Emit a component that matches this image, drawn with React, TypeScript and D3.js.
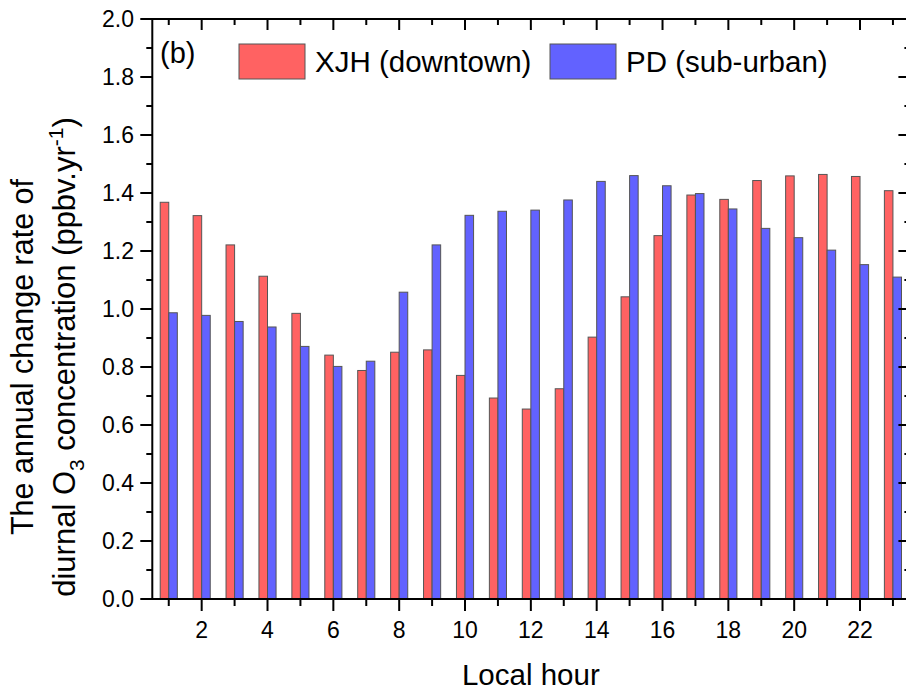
import * as d3 from "d3";

// hours 1..23
const hours = d3.range(1, 24);
const xjh = [1.368, 1.322, 1.221, 1.113, 0.985, 0.841, 0.788, 0.851, 0.859, 0.771, 0.693, 0.655,
  0.725, 0.903, 1.042, 1.253, 1.393, 1.378, 1.443, 1.459, 1.464, 1.457, 1.408];
const pd = [0.987, 0.978, 0.957, 0.938, 0.871, 0.802, 0.820, 1.058, 1.221, 1.323, 1.337, 1.341,
  1.376, 1.440, 1.460, 1.425, 1.398, 1.345, 1.278, 1.246, 1.203, 1.153, 1.110];
const seriesNames = ["XJH (downtown)", "PD (sub-urban)"];
const colors = ["#ff6262", "#6262ff"];
const xMajor = d3.range(2, 24, 2);
const xMinor = d3.range(1, 24, 2);
const yMajor = d3.range(0, 2.01, 0.2);
const yMinor = d3.range(0.1, 2, 0.2);

const W = 906;
const H = 693;
const font = "'Liberation Sans', Arial, sans-serif";

export default function App() {
  const x = d3.scaleLinear().domain([0.5, 23.5]).range([152.3, 909.4]);
  const y = d3.scaleLinear().domain([0, 2]).range([599, 19]);
  const bw = 0.26; // bar width in hour units
  const [x0, x1] = x.range();
  const [y0, y1] = y.range();

  return (
    <svg width={W} height={H} style={{ position: "absolute", left: 0, top: 0, background: "#fff" }}
      fontFamily={font}>
      {/* bars */}
      {hours.map((h, i) => (
        <g key={h}>
          <rect x={x(h - bw)} y={y(xjh[i])} width={x(h) - x(h - bw)} height={y(0) - y(xjh[i])}
            fill={colors[0]} stroke="#555" strokeWidth={1} />
          <rect x={x(h)} y={y(pd[i])} width={x(h + bw) - x(h)} height={y(0) - y(pd[i])}
            fill={colors[1]} stroke="#555" strokeWidth={1} />
        </g>
      ))}

      {/* frame */}
      <rect x={x0} y={y1} width={x1 - x0} height={y0 - y1} fill="none" stroke="#000" strokeWidth={2} />

      {/* x ticks: bottom outward, top inward */}
      {xMajor.map((h) => (
        <g key={"xM" + h}>
          <line x1={x(h)} x2={x(h)} y1={y0} y2={y0 + 12} stroke="#000" strokeWidth={2} />
          <line x1={x(h)} x2={x(h)} y1={y1} y2={y1 + 11} stroke="#000" strokeWidth={2} />
          <text x={x(h)} y={638} fontSize={23} textAnchor="middle">{h}</text>
        </g>
      ))}
      {xMinor.map((h) => (
        <g key={"xm" + h}>
          <line x1={x(h)} x2={x(h)} y1={y0} y2={y0 + 7} stroke="#000" strokeWidth={2} />
          <line x1={x(h)} x2={x(h)} y1={y1} y2={y1 + 6} stroke="#000" strokeWidth={2} />
        </g>
      ))}

      {/* y ticks: left outward, right inward */}
      {yMajor.map((v) => (
        <g key={"yM" + v.toFixed(1)}>
          <line x1={x0 - 12} x2={x0} y1={y(v)} y2={y(v)} stroke="#000" strokeWidth={2} />
          <line x1={x1 - 11} x2={x1} y1={y(v)} y2={y(v)} stroke="#000" strokeWidth={2} />
          <text x={134} y={y(v) + 8} fontSize={23} textAnchor="end">{d3.format(".1f")(v)}</text>
        </g>
      ))}
      {yMinor.map((v) => (
        <g key={"ym" + v.toFixed(1)}>
          <line x1={x0 - 6} x2={x0} y1={y(v)} y2={y(v)} stroke="#000" strokeWidth={2} />
          <line x1={x1 - 5} x2={x1} y1={y(v)} y2={y(v)} stroke="#000" strokeWidth={2} />
        </g>
      ))}

      {/* panel label */}
      <text x={160} y={63} fontSize={29}>(b)</text>

      {/* legend */}
      {seriesNames.map((name, i) => {
        const lx = [239, 550][i];
        return (
          <g key={name}>
            <rect x={lx} y={44} width={66} height={35} fill={colors[i]} stroke="#555" strokeWidth={1} />
            <text x={lx + 76} y={72} fontSize={29.5}>{name}</text>
          </g>
        );
      })}

      {/* axis titles */}
      <text x={(x0 + x1) / 2} y={685} fontSize={29.5} textAnchor="middle">Local hour</text>
      <text transform="translate(33,357) rotate(-90)" fontSize={30.5} textAnchor="middle">
        The annual change rate of
      </text>
      <text transform="translate(75,357) rotate(-90)" fontSize={31} textAnchor="middle">
        diurnal O<tspan fontSize={21} dy={9}>3</tspan>
        <tspan dy={-9}> concentration (ppbv.yr</tspan>
        <tspan fontSize={21} dy={-12}>-1</tspan>
        <tspan dy={12}>)</tspan>
      </text>
    </svg>
  );
}
